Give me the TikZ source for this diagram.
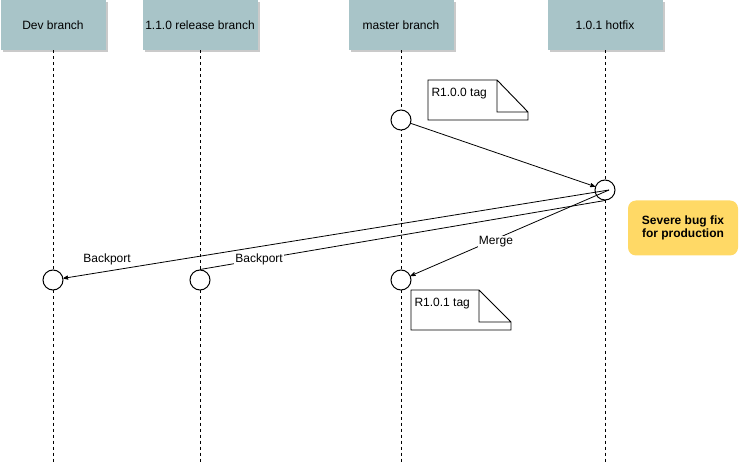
\documentclass[tikz,border=0pt]{standalone}
\usepackage{fontspec}
\setmainfont{Liberation Sans}
\usetikzlibrary{arrows}
\usetikzlibrary{shadows}
\usetikzlibrary{positioning}
\definecolor{headfill}{HTML}{A8C4C8}
\definecolor{notefill}{HTML}{FFD966}
\tikzstyle{branch}=[rectangle, fill=headfill, minimum height=50, inner sep=0,
  font=\fontsize{12}{14}\selectfont,
  drop shadow={shadow xshift=2pt, shadow yshift=-2pt, fill=black!35, opacity=0.6}]
\tikzstyle{lifeline}=[dashed, line width=0.9]
\tikzstyle{commit}=[circle, draw, fill=white, minimum size=20, inner sep=0]
\tikzstyle{msg}=[->, >=stealth', line width=0.8]
\tikzstyle{tagbox}=[draw, fill=white, line width=0.9]
\tikzstyle{lbl}=[font=\fontsize{12}{14}\selectfont, inner sep=1]
\tikzset{every picture/.style={
    line width=1
  }
}

\begin{document}
\begin{tikzpicture}[x=1pt, y=-1pt]
        \useasboundingbox (0,0) rectangle (739,462);
        % branch heads
        \node[branch, minimum width=105] at (53,25) (dev) {Dev branch};
        \node[branch, minimum width=115] at (200,25) (release) {1.1.0 release branch};
        \node[branch, minimum width=105] at (401,25) (master) {master branch};
        \node[branch, minimum width=115] at (605,25) (hotfix) {1.0.1 hotfix};
        \coordinate (devend) at (53,462);
        \coordinate (releaseend) at (200,462);
        \coordinate (masterend) at (401,462);
        \coordinate (hotfixend) at (605,462);
        \draw[lifeline] (dev.south) -- (devend);
        \draw[lifeline] (release.south) -- (releaseend);
        \draw[lifeline] (master.south) -- (masterend);
        \draw[lifeline] (hotfix.south) -- (hotfixend);
        % commits
        \node[commit] at (401,120) (master0) {};
        \node[commit] at (605,190) (fix) {};
        \node[commit] at (53,280) (dev1) {};
        \node[commit] at (200,280) (release1) {};
        \node[commit] at (401,280) (master1) {};
        \coordinate (fixout) at (609,190);
        % tags
        \draw[tagbox] (428,80) -- (497,80) -- (528,112) -- (528,120) -- (428,120) -- cycle
          (497,80) -- (497,112) -- (528,112);
        \node[lbl, anchor=west] at (430,94) (tag0) {R1.0.0 tag};
        \draw[tagbox] (411,290) -- (479,290) -- (511,322) -- (511,330) -- (411,330) -- cycle
          (479,290) -- (479,322) -- (511,322);
        \node[lbl, anchor=west] at (413,304) (tag1) {R1.0.1 tag};
        % messages
        \draw[msg] (master0) -- (fix);
        \draw[msg] (fixout) -- (dev1) node[lbl, pos=0.92, above=5pt] {Backport};
        \draw[line width=0.8] (fix.south) -- (release1.north) node[lbl, pos=0.854, fill=white] {Backport};
        \draw[msg] (fixout) -- (master1) node[lbl, pos=0.57, fill=white, yshift=-3pt] {Merge};
        % note
        \node[rectangle, rounded corners=8, fill=notefill, minimum width=110, minimum height=55,
          align=center, font=\fontsize{12}{12.5}\selectfont\bfseries] at (683,228) (severe)
          {Severe bug fix\\for production};
      \end{tikzpicture}
\end{document}
